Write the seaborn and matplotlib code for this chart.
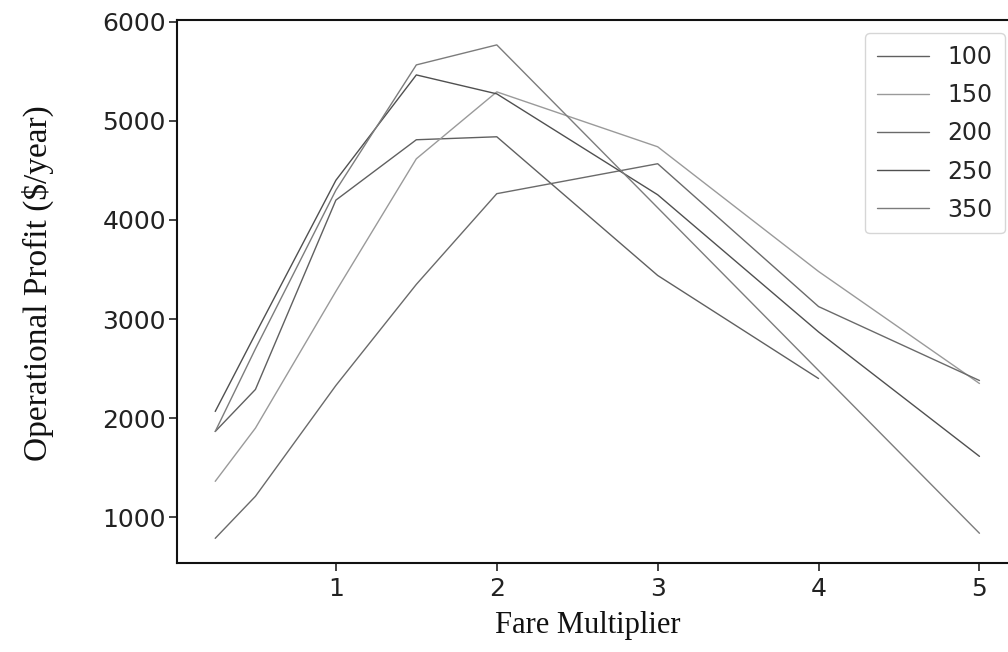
import numpy as np
import pandas as pd
import matplotlib
matplotlib.use("Agg")
import matplotlib.pyplot as plt
import seaborn as sns

fare = [0.25, 0.5, 1, 1.5, 2, 3, 4, 5]
labels = ["100", "150", "200", "250", "350"]
p100 = [1866, 2290, 4200, 4809, 4839, 3440, 2400, np.nan]
p150 = [1363, 1900, 3280, 4617, 5292, 4738, 3480, 2350]
p200 = [788, 1212, 2330, 3350, 4265, 4567, 3126, 2380]
p250 = [2068, 2850, 4400, 5463, 5272, 4254, 2870, 1615]
p350 = [1866, 2700, 4300, 5564, 5766, 4123, 2481, 839]
series = [p100, p150, p200, p250, p350]
grays = ["#606060", "#9a9a9a", "#6a6a6a", "#505050", "#7c7c7c"]

rows = []
for lab, vals in zip(labels, series):
    for f, v in zip(fare, vals):
        if not np.isnan(v):
            rows.append({"Fare": f, "Profit": v, "Size": lab})
df = pd.DataFrame(rows)

sns.set_style("ticks")
plt.rcParams['font.family'] = ['DejaVu Sans']

fig = plt.figure(figsize=(10.08, 6.52), dpi=100)
ax = fig.add_axes([0.1756, 0.1365, 0.834, 0.8325])
sns.lineplot(data=df, x="Fare", y="Profit", hue="Size", hue_order=labels,
             palette=dict(zip(labels, grays)), linewidth=1.0, ax=ax, sort=False)

ax.set_xticks([1, 2, 3, 4, 5])
ax.set_yticks([1000, 2000, 3000, 4000, 5000, 6000])
ax.tick_params(axis='both', labelsize=18, length=6, width=1.2, colors='#222222', pad=2)
ax.tick_params(axis='x', pad=4)
for s in ax.spines.values():
    s.set_linewidth(1.5)
    s.set_color('#111111')

ax.set_xlabel("Fare Multiplier", family="Liberation Serif", fontsize=22, color='#111111')
ax.set_ylabel("Operational Profit ($/year)", family="Liberation Serif", fontsize=24, color='#111111')
ax.xaxis.set_label_coords(0.489, -0.088)
ax.yaxis.set_label_coords(-0.146, 0.515)

leg = ax.legend(title=None, loc='upper right',
                bbox_to_anchor=((1005 - 177) / 841, (563 - 33) / 543),
                fontsize=17, handlelength=2.2, handletextpad=0.8, labelspacing=0.6,
                frameon=True, fancybox=True, edgecolor='#cccccc', borderpad=0.5,
                borderaxespad=0.0)
for line in leg.get_lines():
    line.set_linewidth(1.0)

fig.savefig("out.png", dpi=100)
